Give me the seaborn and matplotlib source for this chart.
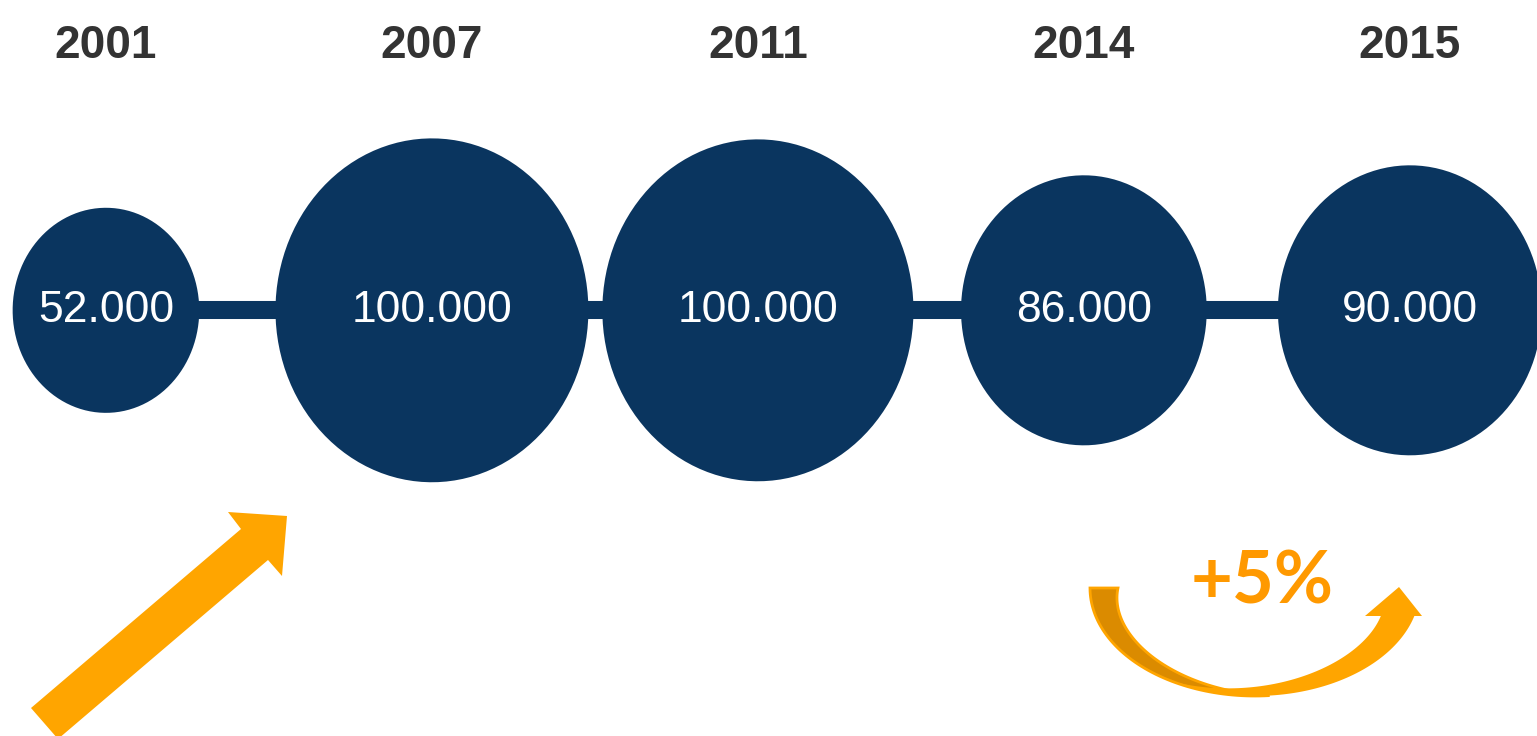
import numpy as np
import pandas as pd
import matplotlib
matplotlib.use("Agg")
import matplotlib.pyplot as plt
from matplotlib.path import Path
from matplotlib.patches import Polygon
import seaborn as sns

# data
years = ["2001", "2007", "2011", "2014", "2015"]
values = [52000, 100000, 100000, 86000, 90000]
growth_label = "+5%"

# style
navy = "#0a355f"
orange = "#FFA500"
dark_orange = "#DB8B00"
bubble_area = {"2001": 21800, "2007": 61300, "2011": 60600, "2014": 37800, "2015": 43600}

sns.set_style("white")
plt.rcParams["font.family"] = ["Liberation Sans", "DejaVu Sans"]

df = pd.DataFrame({"year": years, "value": values})
df["level"] = np.zeros(len(df))
df["label"] = df["value"].map(lambda v: f"{v:,}".replace(",", "."))

# slightly tall ellipse marker, like the original picture
t = np.linspace(0, 2 * np.pi, 120)
ellipse = Path(np.column_stack([0.91 * np.cos(t), np.sin(t)]), closed=True)

fig = plt.figure(figsize=(15.37, 7.36), dpi=100)
ax = fig.add_axes([0, 0, 1, 661 / 736])

sns.lineplot(data=df, x="year", y="level", color=navy, linewidth=13,
             ax=ax, zorder=1, legend=False)
sns.scatterplot(data=df, x="year", y="level", size="year", sizes=bubble_area,
                marker=ellipse, color=navy, edgecolor="none", linewidth=0,
                ax=ax, zorder=2, legend=False)

for i, row in df.iterrows():
    ax.text(i, row["level"], row["label"], color="white", fontsize=32,
            ha="center", va="center", zorder=3)

ax.set_xlim(-0.325, 4.39)
ax.set_ylim(-1.288, 0.712)
ax.xaxis.tick_top()
ax.set_xticks(range(len(years)))
ax.set_xticklabels(years, fontsize=33, fontweight="bold", color="#333333")
ax.tick_params(axis="x", length=0, pad=5)
ax.set_yticks([])
ax.set_xlabel("")
ax.set_ylabel("")
for s in ax.spines.values():
    s.set_visible(False)

# decoration layer in pixel coordinates
deco = fig.add_axes([0, 0, 1, 1], facecolor="none")
deco.set_xlim(0, 1537)
deco.set_ylim(736, 0)
deco.axis("off")

# straight arrow bottom-left
deco.add_patch(Polygon([(31, 708), (241, 529), (228, 512), (287, 516),
                        (282, 576), (268, 560), (58, 739)],
                       closed=True, facecolor=orange, edgecolor="none"))

# curved arrow bottom-right
cx, cy, rx, ry = 1255, 588, 165, 108
th = np.radians(np.linspace(180, 85, 60))
w = np.linspace(28, 0, 60)
outer = np.column_stack([cx + rx * np.cos(th), cy + ry * np.sin(th)])
inner = np.column_stack([cx + (rx - w) * np.cos(th), cy + (ry - w) * np.sin(th)])
deco.add_patch(Polygon(np.vstack([outer, inner[::-1]]), closed=True,
                       facecolor=dark_orange, edgecolor=orange, linewidth=2))

th = np.radians(np.linspace(120, 15, 80))
w = np.linspace(0, 32, 80)
outer = np.column_stack([cx + rx * np.cos(th), cy + ry * np.sin(th)])
inner = np.column_stack([cx + (rx - w) * np.cos(th), cy + (ry - w) * np.sin(th)])
deco.add_patch(Polygon(np.vstack([outer, inner[::-1]]), closed=True,
                       facecolor=orange, edgecolor="none"))
deco.add_patch(Polygon([(1365, 616), (1399, 587), (1422, 616)], closed=True,
                       facecolor=orange, edgecolor="none"))

deco.text(1262, 603, growth_label, color="#FF9900", fontsize=52,
          fontweight="bold", ha="center", va="baseline",
          family=["Lato", "DejaVu Sans"])

fig.savefig("out.png", dpi=100)
